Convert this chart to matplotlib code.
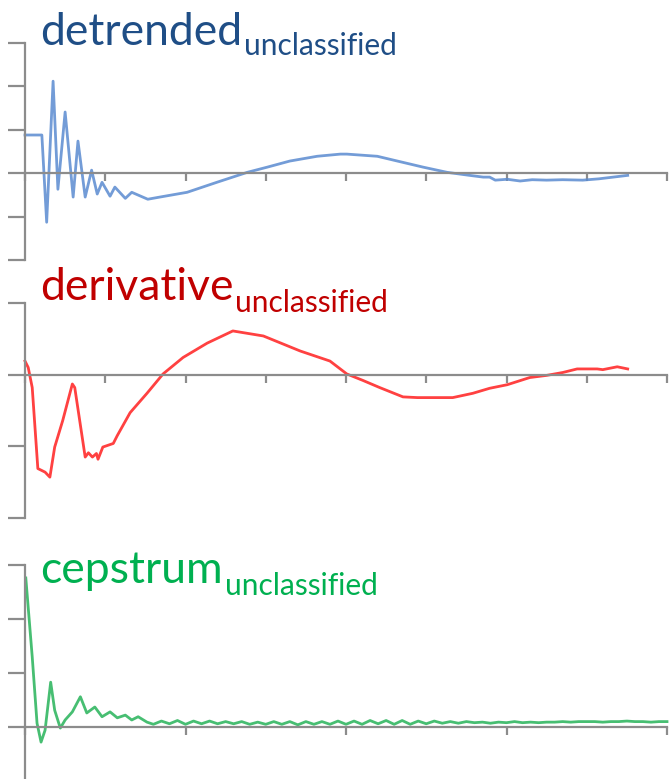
import matplotlib
matplotlib.use("Agg")
import matplotlib.pyplot as plt
import numpy as np

W, H = 671, 779

# detrended signal (x in samples, y in tick units)
det_x = [0, 21, 27, 35, 41, 50, 60, 66, 75, 83, 90, 96, 106, 112, 125, 133, 153, 168,
         202, 239, 277, 302, 330, 364, 393, 401, 439, 464, 496, 526, 554, 571, 579, 586,
         601, 617, 632, 650, 670, 695, 715, 733, 751]
det_y = [0.88, 0.88, -1.13, 2.12, -0.37, 1.41, -0.55, 0.74, -0.55, 0.07, -0.48, -0.21,
         -0.53, -0.32, -0.58, -0.44, -0.60, -0.55, -0.44, -0.21, 0.02, 0.14, 0.28, 0.39,
         0.44, 0.44, 0.39, 0.28, 0.14, 0.02, -0.05, -0.09, -0.09, -0.16, -0.14, -0.18,
         -0.15, -0.16, -0.15, -0.16, -0.13, -0.09, -0.05]

# derivative signal
der_x = [0, 4, 9, 16, 25, 31, 37, 47, 59, 62, 75, 79, 84, 89, 91, 97, 110, 115, 131, 152,
         172, 197, 227, 259, 297, 343, 380, 401, 421, 442, 471, 489, 533, 558, 579, 601,
         629, 650, 670, 688, 713, 720, 738, 751]
der_y = [0.19, 0.10, -0.18, -1.31, -1.36, -1.43, -1.01, -0.64, -0.13, -0.18, -1.15, -1.09,
         -1.15, -1.10, -1.18, -1.01, -0.96, -0.85, -0.53, -0.26, 0.01, 0.24, 0.44, 0.61,
         0.54, 0.33, 0.19, 0.01, -0.08, -0.18, -0.31, -0.32, -0.32, -0.26, -0.19, -0.14,
         -0.04, -0.01, 0.03, 0.08, 0.08, 0.07, 0.11, 0.08]

# cepstrum
cep_x = [1, 9, 15, 20, 25, 32, 37, 44, 50, 59, 69, 77, 87, 96, 106, 115, 125, 133, 141, 152,
         160, 170, 180, 190, 200, 210, 220, 230, 240, 250, 260, 270, 280, 290, 300, 310,
         320, 330, 340, 350, 360, 370, 380, 390, 400, 410, 420, 430, 440, 450, 460, 470,
         480, 490, 500, 510, 520, 530, 540, 550, 560, 570, 580, 590, 600, 610, 620, 630,
         640, 650, 660, 670, 680, 690, 700, 710, 720, 730, 740, 750, 760, 770, 780, 790, 800]
cep_y = [2.76, 1.30, 0.07, -0.28, -0.06, 0.83, 0.31, -0.02, 0.13, 0.28, 0.56, 0.26, 0.37,
         0.19, 0.28, 0.17, 0.22, 0.13, 0.19, 0.09,
         0.05, 0.11, 0.06, 0.12, 0.05, 0.11, 0.06, 0.11, 0.06, 0.10, 0.06, 0.10, 0.05, 0.09,
         0.05, 0.10, 0.05, 0.10, 0.04, 0.10, 0.05, 0.10, 0.05, 0.11, 0.05, 0.11, 0.05, 0.12,
         0.06, 0.12, 0.05, 0.12, 0.05, 0.11, 0.06, 0.11, 0.07, 0.10, 0.07, 0.10, 0.08, 0.09,
         0.07, 0.09, 0.08, 0.10, 0.08, 0.09, 0.08, 0.09, 0.09, 0.10, 0.09, 0.10, 0.10, 0.10,
         0.09, 0.10, 0.10, 0.11, 0.10, 0.10, 0.09, 0.10, 0.10]

panels = [
    # name, x, y, line colour, title colour, (top px, bottom px), ylim, xtick step, title baselines
    ("detrended", det_x, det_y, "#5b8bd0", "#1f4e86", (43, 260), (-2, 3), 100, (45, 55)),
    ("derivative", der_x, der_y, "#ff1f1f", "#c00000", (303, 518), (-2, 1), 100, (300, 312)),
    ("cepstrum", cep_x, cep_y, "#27b359", "#00b050", (565, 781), (-1, 3), 200, (583, 595)),
]

fig = plt.figure(figsize=(W / 100, H / 100), dpi=100)
renderer = fig.canvas.get_renderer()
FONT = "Lato"
axis_col = "#8c8c8c"

for name, xs, ys, lc, tc, (top, bot), ylim, step, (b_main, b_sub) in panels:
    left, right = 25, 667
    ax = fig.add_axes([left / W, 1 - bot / H, (right - left) / W, (bot - top) / H])
    ax.set_xlim(0, 800)
    ax.set_ylim(*ylim)
    ax.patch.set_alpha(0)
    for s in ("top", "right"):
        ax.spines[s].set_visible(False)
    ax.spines["bottom"].set_position(("data", 0))
    for s in ("left", "bottom"):
        ax.spines[s].set_color(axis_col)
        ax.spines[s].set_linewidth(1.6)
    ax.set_xticks(np.arange(0, 801, step))
    ax.set_yticks(np.arange(ylim[0], ylim[1] + 1, 1))
    ax.tick_params(axis="x", direction="out", length=6, width=1.6, color=axis_col,
                   labelbottom=False)
    ax.tick_params(axis="y", direction="out", length=12.5, width=1.6, color=axis_col,
                   labelleft=False)
    ax.plot(xs, ys, color=lc, lw=2.0, alpha=0.85, solid_joinstyle="round", clip_on=False)

    t = fig.text(40 / W, 1 - b_main / H, name, color=tc, fontsize=32, family=FONT,
                 va="baseline", ha="left")
    bb = t.get_window_extent(renderer)
    fig.text((bb.x1 + 2) / W, 1 - b_sub / H, "unclassified", color=tc, fontsize=21.5,
             family=FONT, va="baseline", ha="left")

fig.savefig("out.png", dpi=100)
